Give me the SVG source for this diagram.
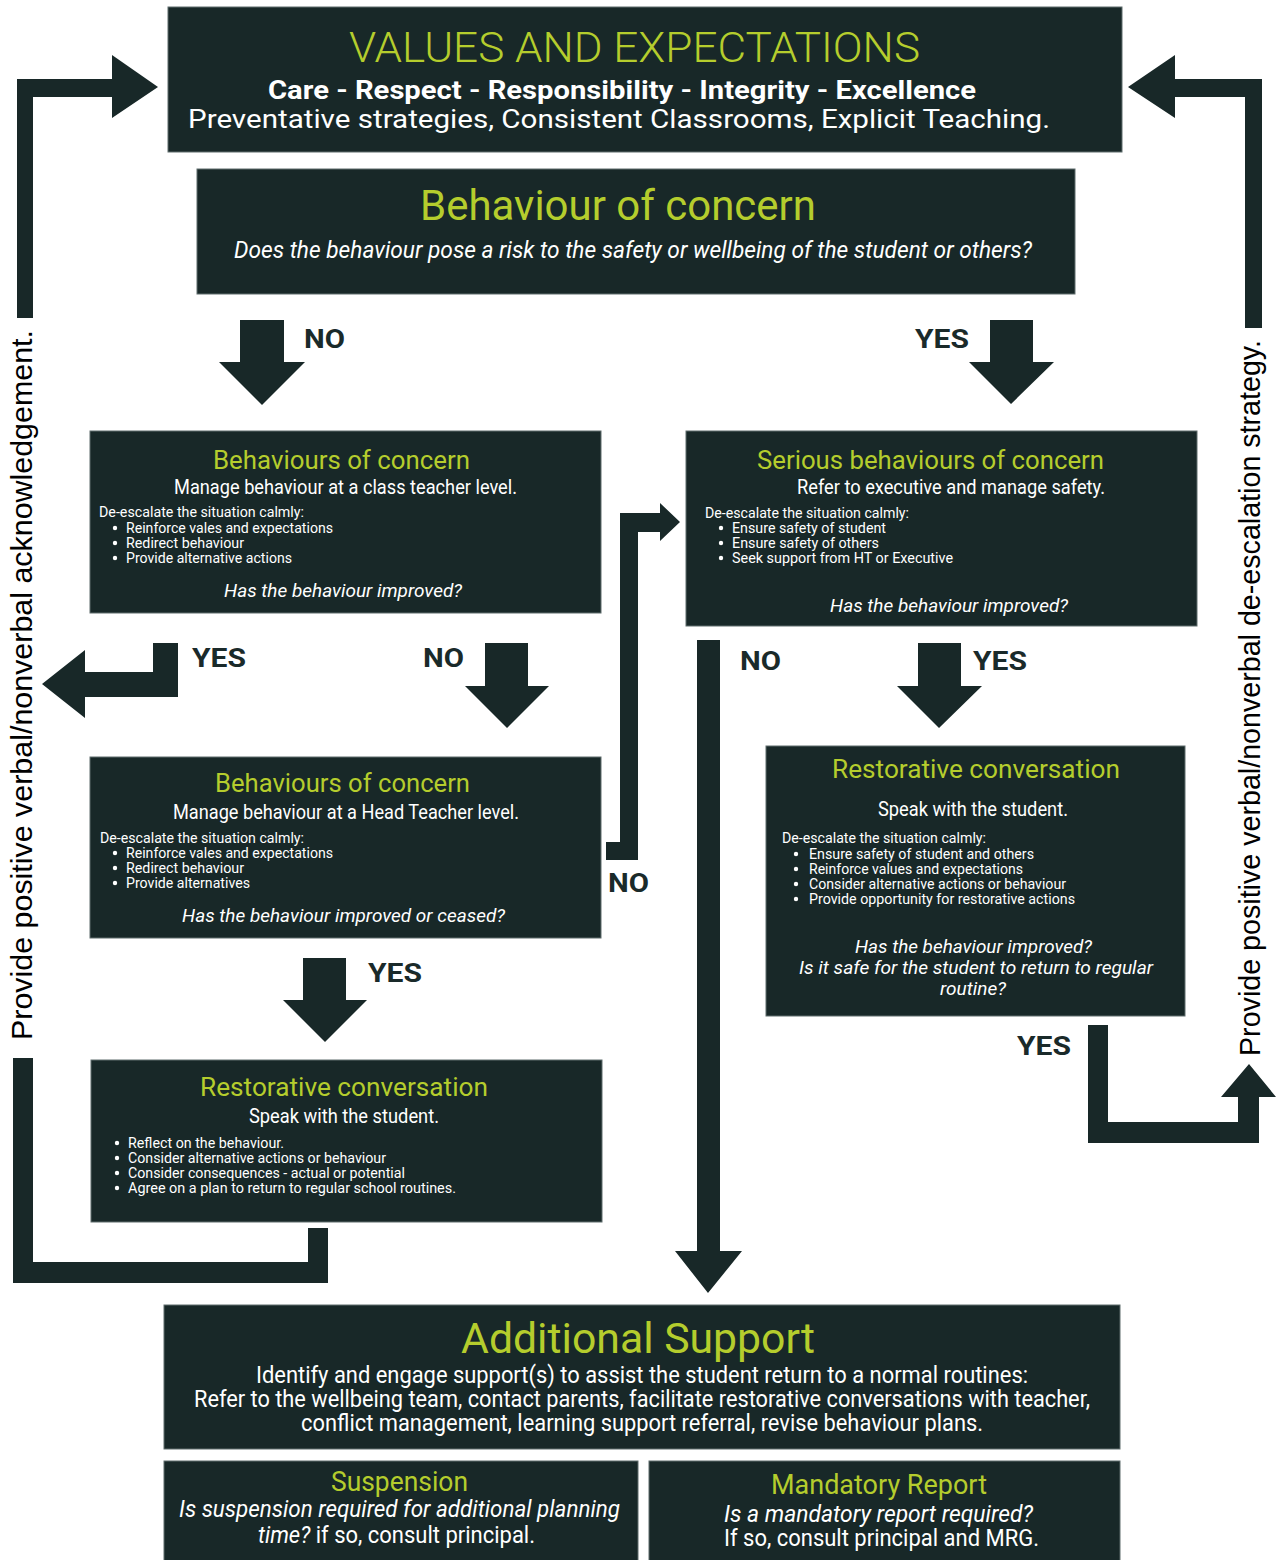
<svg xmlns="http://www.w3.org/2000/svg" width="1276" height="1560" viewBox="0 0 1276 1560">
<style>
.box{fill:#182828;stroke:#5f6d6d;stroke-width:1}
text{font-family:Roboto,"Liberation Sans",sans-serif}
.g{fill:#b5cd2d}
.w{fill:#ffffff}
.i{font-style:italic}
.b{font-weight:bold}
.dot{fill:#ffffff}
.lbl{font-weight:bold;fill:#1a2a2a;font-size:26px}
.side{font-family:"Liberation Sans",Arial,sans-serif;font-size:30px;fill:#000}
.arr{fill:#182828}
</style>
<rect width="1276" height="1560" fill="#ffffff"/>

<g id="connectors" class="arr">
  <polygon points="17,318 33,318 33,97 112,97 112,118 158,87 112,55 112,79 17,79"/>
  <polygon points="1262,328 1245,328 1245,97 1175,97 1175,118 1128,87 1175,55 1175,79 1262,79"/>
  <polygon points="240,320 284,320 284,362 305,362 262,405 219,362 240,362"/>
  <polygon points="990,320 1033,320 1033,362 1054,362 1011,404 969,362 990,362"/>
  <polygon points="153,643 178,643 178,697 85,697 85,718 42,684 85,650 85,672 153,672"/>
  <polygon points="485,643 528,643 528,686 549,686 507,728 465,686 485,686"/>
  <polygon points="606,842 620,842 620,513 660,513 660,503 680,522 660,541 660,532 638,532 638,860 606,860"/>
  <polygon points="697,640 720,640 720,1251 742,1251 708,1293 675,1251 697,1251"/>
  <polygon points="918,643 961,643 961,686 982,686 939,728 897,686 918,686"/>
  <polygon points="303,958 346,958 346,1000 367,1000 325,1042 283,1000 303,1000"/>
  <polygon points="1088,1025 1108,1025 1108,1122 1238,1122 1238,1097 1221,1097 1249,1064 1276,1097 1259,1097 1259,1143 1088,1143"/>
  <polygon points="13,1058 33,1058 33,1262 308,1262 308,1228 328,1228 328,1283 13,1283"/>
  <text class="lbl" x="304" y="348" textLength="41" lengthAdjust="spacingAndGlyphs">NO</text>
  <text class="lbl" x="915" y="348" textLength="54" lengthAdjust="spacingAndGlyphs">YES</text>
  <text class="lbl" x="192" y="667" textLength="54" lengthAdjust="spacingAndGlyphs">YES</text>
  <text class="lbl" x="423" y="667" textLength="41" lengthAdjust="spacingAndGlyphs">NO</text>
  <text class="lbl" x="740" y="670" textLength="41" lengthAdjust="spacingAndGlyphs">NO</text>
  <text class="lbl" x="973" y="670" textLength="54" lengthAdjust="spacingAndGlyphs">YES</text>
  <text class="lbl" x="368" y="982" textLength="54" lengthAdjust="spacingAndGlyphs">YES</text>
  <text class="lbl" x="608" y="892" textLength="41" lengthAdjust="spacingAndGlyphs">NO</text>
  <text class="lbl" x="1017" y="1055" textLength="54" lengthAdjust="spacingAndGlyphs">YES</text>
  <text class="side" transform="translate(32,685) rotate(-90)" text-anchor="middle" textLength="710" lengthAdjust="spacingAndGlyphs">Provide positive verbal/nonverbal acknowledgement.</text>
  <text class="side" transform="translate(1260,698) rotate(-90)" text-anchor="middle" textLength="716" lengthAdjust="spacingAndGlyphs">Provide positive verbal/nonverbal de-escalation strategy.</text>
</g>

<g id="values">
  <rect class="box" x="168" y="7" width="954" height="145"/>
  <text class="g" x="349" y="62" font-size="42" font-weight="300" textLength="571" lengthAdjust="spacingAndGlyphs">VALUES AND EXPECTATIONS</text>
  <text class="w b" x="268" y="99" font-size="26" textLength="708" lengthAdjust="spacingAndGlyphs">Care - Respect - Responsibility - Integrity - Excellence</text>
  <text class="w" x="188" y="128" font-size="26" textLength="862" lengthAdjust="spacingAndGlyphs">Preventative strategies, Consistent Classrooms, Explicit Teaching.</text>
</g>

<g id="behaviour-of-concern">
  <rect class="box" x="197" y="169" width="878" height="125"/>
  <text class="g" x="420" y="220" font-size="42" textLength="396" lengthAdjust="spacingAndGlyphs">Behaviour of concern</text>
  <text class="w i" x="234" y="258" font-size="23" textLength="798" lengthAdjust="spacingAndGlyphs">Does the behaviour pose a risk to the safety or wellbeing of the student or others?</text>
</g>

<g id="class-teacher">
  <rect class="box" x="90" y="431" width="511" height="182"/>
  <text class="g" x="213" y="469" font-size="25" textLength="257" lengthAdjust="spacingAndGlyphs">Behaviours of concern</text>
  <text class="w" x="174" y="494" font-size="20" textLength="343" lengthAdjust="spacingAndGlyphs">Manage behaviour at a class teacher level.</text>
  <text class="w" x="99" y="517" font-size="15" textLength="205" lengthAdjust="spacingAndGlyphs">De-escalate the situation calmly:</text>
  <circle class="dot" cx="115" cy="528" r="2.2"/>
  <text class="w" x="126" y="533" font-size="15" textLength="207" lengthAdjust="spacingAndGlyphs">Reinforce vales and expectations</text>
  <circle class="dot" cx="115" cy="543" r="2.2"/>
  <text class="w" x="126" y="548" font-size="15" textLength="118" lengthAdjust="spacingAndGlyphs">Redirect behaviour</text>
  <circle class="dot" cx="115" cy="558" r="2.2"/>
  <text class="w" x="126" y="563" font-size="15" textLength="166" lengthAdjust="spacingAndGlyphs">Provide alternative actions</text>
  <text class="w i" x="224" y="597" font-size="19" textLength="238" lengthAdjust="spacingAndGlyphs">Has the behaviour improved?</text>
</g>

<g id="head-teacher">
  <rect class="box" x="90" y="757" width="511" height="181"/>
  <text class="g" x="215" y="792" font-size="25" textLength="255" lengthAdjust="spacingAndGlyphs">Behaviours of concern</text>
  <text class="w" x="173" y="819" font-size="20" textLength="346" lengthAdjust="spacingAndGlyphs">Manage behaviour at a Head Teacher level.</text>
  <text class="w" x="100" y="843" font-size="15" textLength="204" lengthAdjust="spacingAndGlyphs">De-escalate the situation calmly:</text>
  <circle class="dot" cx="115" cy="853" r="2.2"/>
  <text class="w" x="126" y="858" font-size="15" textLength="207" lengthAdjust="spacingAndGlyphs">Reinforce vales and expectations</text>
  <circle class="dot" cx="115" cy="868" r="2.2"/>
  <text class="w" x="126" y="873" font-size="15" textLength="118" lengthAdjust="spacingAndGlyphs">Redirect behaviour</text>
  <circle class="dot" cx="115" cy="883" r="2.2"/>
  <text class="w" x="126" y="888" font-size="15" textLength="124" lengthAdjust="spacingAndGlyphs">Provide alternatives</text>
  <text class="w i" x="182" y="922" font-size="19" textLength="323" lengthAdjust="spacingAndGlyphs">Has the behaviour improved or ceased?</text>
</g>

<g id="restorative-left">
  <rect class="box" x="91" y="1060" width="511" height="162"/>
  <text class="g" x="200" y="1096" font-size="25" textLength="288" lengthAdjust="spacingAndGlyphs">Restorative conversation</text>
  <text class="w" x="249" y="1123" font-size="20" textLength="190" lengthAdjust="spacingAndGlyphs">Speak with the student.</text>
  <circle class="dot" cx="117" cy="1143" r="2.2"/>
  <text class="w" x="128" y="1148" font-size="15" textLength="156" lengthAdjust="spacingAndGlyphs">Reflect on the behaviour.</text>
  <circle class="dot" cx="117" cy="1158" r="2.2"/>
  <text class="w" x="128" y="1163" font-size="15" textLength="258" lengthAdjust="spacingAndGlyphs">Consider alternative actions or behaviour</text>
  <circle class="dot" cx="117" cy="1173" r="2.2"/>
  <text class="w" x="128" y="1178" font-size="15" textLength="277" lengthAdjust="spacingAndGlyphs">Consider consequences - actual or potential</text>
  <circle class="dot" cx="117" cy="1188" r="2.2"/>
  <text class="w" x="128" y="1193" font-size="15" textLength="328" lengthAdjust="spacingAndGlyphs">Agree on a plan to return to regular school routines.</text>
</g>

<g id="serious">
  <rect class="box" x="686" y="431" width="511" height="195"/>
  <text class="g" x="757" y="469" font-size="25" textLength="347" lengthAdjust="spacingAndGlyphs">Serious behaviours of concern</text>
  <text class="w" x="797" y="494" font-size="20" textLength="308" lengthAdjust="spacingAndGlyphs">Refer to executive and manage safety.</text>
  <text class="w" x="705" y="518" font-size="15" textLength="204" lengthAdjust="spacingAndGlyphs">De-escalate the situation calmly:</text>
  <circle class="dot" cx="721" cy="528" r="2.2"/>
  <text class="w" x="732" y="533" font-size="15" textLength="154" lengthAdjust="spacingAndGlyphs">Ensure safety of student</text>
  <circle class="dot" cx="721" cy="543" r="2.2"/>
  <text class="w" x="732" y="548" font-size="15" textLength="147" lengthAdjust="spacingAndGlyphs">Ensure safety of others</text>
  <circle class="dot" cx="721" cy="558" r="2.2"/>
  <text class="w" x="732" y="563" font-size="15" textLength="221" lengthAdjust="spacingAndGlyphs">Seek support from HT or Executive</text>
  <text class="w i" x="830" y="612" font-size="19" textLength="238" lengthAdjust="spacingAndGlyphs">Has the behaviour improved?</text>
</g>

<g id="restorative-right">
  <rect class="box" x="766" y="746" width="419" height="270"/>
  <text class="g" x="832" y="778" font-size="25" textLength="288" lengthAdjust="spacingAndGlyphs">Restorative conversation</text>
  <text class="w" x="878" y="816" font-size="20" textLength="190" lengthAdjust="spacingAndGlyphs">Speak with the student.</text>
  <text class="w" x="782" y="843" font-size="15" textLength="204" lengthAdjust="spacingAndGlyphs">De-escalate the situation calmly:</text>
  <circle class="dot" cx="796" cy="854" r="2.2"/>
  <text class="w" x="809" y="859" font-size="15" textLength="225" lengthAdjust="spacingAndGlyphs">Ensure safety of student and others</text>
  <circle class="dot" cx="796" cy="869" r="2.2"/>
  <text class="w" x="809" y="874" font-size="15" textLength="214" lengthAdjust="spacingAndGlyphs">Reinforce values and expectations</text>
  <circle class="dot" cx="796" cy="884" r="2.2"/>
  <text class="w" x="809" y="889" font-size="15" textLength="257" lengthAdjust="spacingAndGlyphs">Consider alternative actions or behaviour</text>
  <circle class="dot" cx="796" cy="899" r="2.2"/>
  <text class="w" x="809" y="904" font-size="15" textLength="266" lengthAdjust="spacingAndGlyphs">Provide opportunity for restorative actions</text>
  <text class="w i" x="855" y="953" font-size="19" textLength="237" lengthAdjust="spacingAndGlyphs">Has the behaviour improved?</text>
  <text class="w i" x="799" y="974" font-size="19" textLength="354" lengthAdjust="spacingAndGlyphs">Is it safe for the student to return to regular</text>
  <text class="w i" x="940" y="995" font-size="19" textLength="66" lengthAdjust="spacingAndGlyphs">routine?</text>
</g>

<g id="additional-support">
  <rect class="box" x="164" y="1305" width="956" height="144"/>
  <text class="g" x="461" y="1353" font-size="43" textLength="354" lengthAdjust="spacingAndGlyphs">Additional Support</text>
  <text class="w" x="256" y="1383" font-size="23" textLength="772" lengthAdjust="spacingAndGlyphs">Identify and engage support(s) to assist the student return to a normal routines:</text>
  <text class="w" x="194" y="1407" font-size="23" textLength="896" lengthAdjust="spacingAndGlyphs">Refer to the wellbeing team, contact parents, facilitate restorative conversations with teacher,</text>
  <text class="w" x="301" y="1431" font-size="23" textLength="682" lengthAdjust="spacingAndGlyphs">conflict management, learning support referral, revise behaviour plans.</text>
</g>

<g id="suspension">
  <rect class="box" x="164" y="1461" width="474" height="104"/>
  <text class="g" x="331" y="1491" font-size="27" textLength="137" lengthAdjust="spacingAndGlyphs">Suspension</text>
  <text class="w i" x="179" y="1517" font-size="23" textLength="441" lengthAdjust="spacingAndGlyphs">Is suspension required for additional planning</text>
  <text class="w" x="258" y="1543" font-size="23" textLength="277" lengthAdjust="spacingAndGlyphs"><tspan class="i">time?</tspan> if so, consult principal.</text>
</g>

<g id="mandatory-report">
  <rect class="box" x="649" y="1461" width="471" height="104"/>
  <text class="g" x="771" y="1494" font-size="27" textLength="216" lengthAdjust="spacingAndGlyphs">Mandatory Report</text>
  <text class="w i" x="724" y="1522" font-size="23" textLength="309" lengthAdjust="spacingAndGlyphs">Is a mandatory report required?</text>
  <text class="w" x="724" y="1546" font-size="23" textLength="315" lengthAdjust="spacingAndGlyphs">If so, consult principal and MRG.</text>
</g>
</svg>
